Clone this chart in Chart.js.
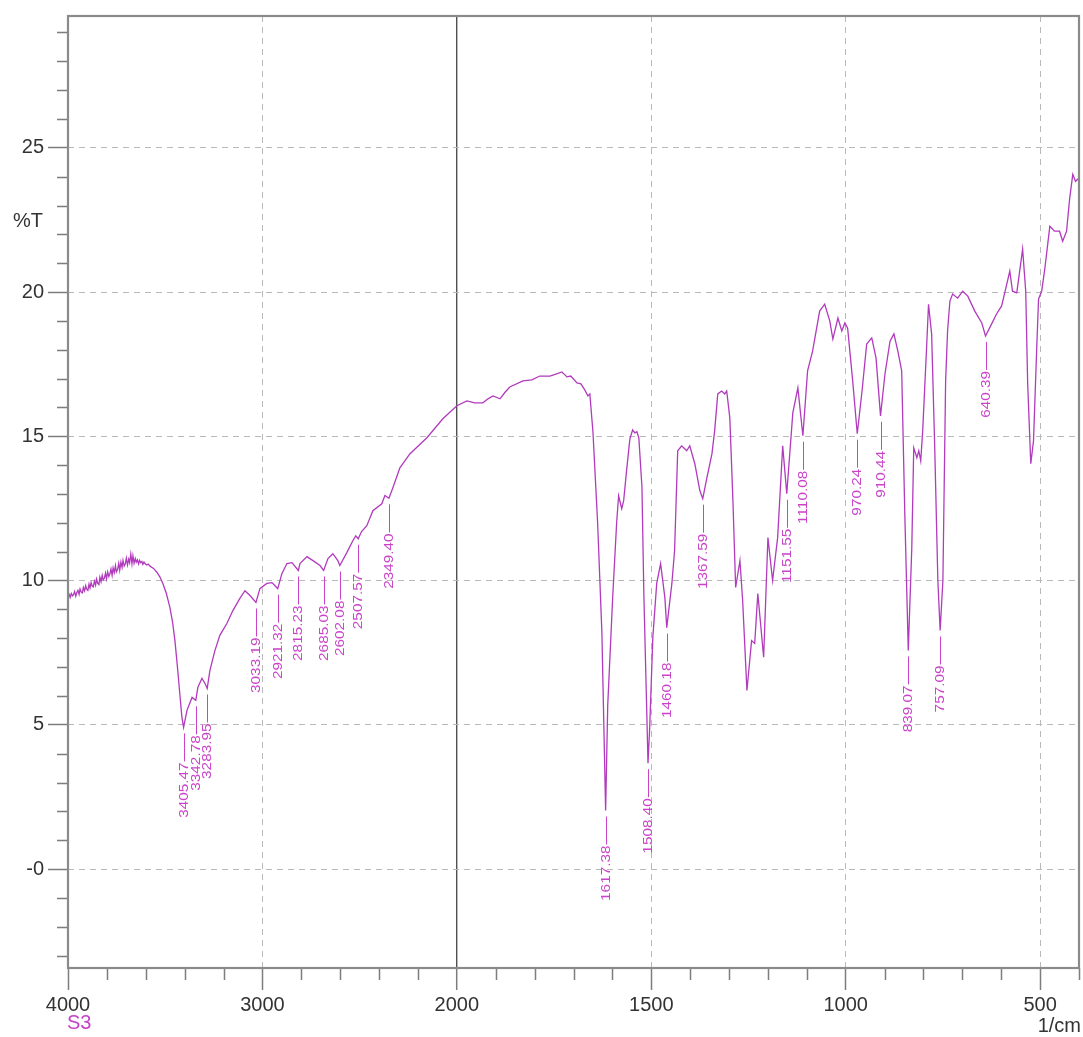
<!DOCTYPE html>
<html>
<head>
<meta charset="utf-8">
<title>S3 IR spectrum</title>
<script src="https://cdn.jsdelivr.net/npm/chart.js@4/dist/chart.umd.min.js"></script>
<style>
  html, body { margin: 0; padding: 0; background: #ffffff; }
  canvas { display: block; }
</style>
</head>
<body>
<canvas id="ir" width="1083" height="1037"></canvas>
<script>
// Spectrum S3: wavenumber (1/cm) and transmittance (%T)
const wavenumbers = [
  4000, 3994, 3989, 3983, 3977, 3972, 3966, 3960, 3955, 3949, 3943, 3938, 3932, 3926, 3921, 3915,
  3909, 3904, 3898, 3892, 3887, 3881, 3875, 3870, 3864, 3858, 3853, 3847, 3841, 3836, 3830, 3824,
  3819, 3813, 3807, 3802, 3796, 3790, 3785, 3779, 3773, 3768, 3762, 3756, 3751, 3745, 3739, 3734,
  3728, 3722, 3717, 3711, 3705, 3700, 3694, 3688, 3683, 3677, 3671, 3666, 3660, 3654, 3649, 3643,
  3637, 3632, 3626, 3620, 3615, 3609, 3603, 3596, 3588, 3578, 3560, 3542, 3527, 3512, 3494, 3476,
  3462, 3450, 3442, 3434, 3424, 3414, 3405.47, 3388, 3362, 3342.78, 3332, 3311, 3296, 3283.95, 3270, 3244,
  3219, 3183, 3152, 3116, 3090, 3064, 3033.19, 3013, 2977, 2951, 2936, 2921.32, 2900, 2874, 2848, 2815.23,
  2807, 2771, 2740, 2704, 2685.03, 2663, 2638, 2612, 2602.08, 2566, 2535, 2520, 2507.57, 2490, 2463, 2432,
  2386, 2370, 2349.40, 2329, 2293, 2242, 2154, 2072, 2000,
  1974, 1954, 1933, 1920, 1907, 1889, 1877, 1864, 1830, 1807, 1787, 1761, 1745, 1730, 1722, 1717,
  1707, 1691, 1681, 1671, 1663, 1658, 1650, 1638, 1627, 1617.38, 1612, 1599, 1589, 1584, 1576, 1571,
  1563, 1555, 1548, 1542, 1537, 1532, 1524, 1519, 1512, 1508.40, 1504, 1496, 1486, 1476, 1465, 1460.18,
  1447, 1440, 1432, 1422, 1414, 1409, 1401, 1388, 1375, 1367.59, 1357, 1344, 1337, 1329, 1319, 1311,
  1306, 1298, 1290, 1283, 1272, 1265, 1254, 1242, 1234, 1226, 1211, 1200, 1188, 1175, 1162, 1151.55,
  1136, 1123, 1110.08, 1098, 1085, 1067, 1054, 1041, 1033, 1020, 1010, 1002, 995, 982, 970.24, 958,
  946, 933, 922, 910.44, 899, 886, 876, 866, 856, 848, 839.07, 830, 825, 817, 812, 807,
  802, 792, 787, 779, 771, 763, 757.09, 750, 743, 738, 732, 725, 712, 699, 686, 668,
  650, 640.39, 625, 612, 599, 591, 578, 571, 560, 545, 537, 532, 524, 517, 509, 504,
  496, 488, 475, 463, 450, 442, 432, 424, 416, 409, 401, 400
];
const transmittance = [
  9.45, 9.52, 9.41, 9.55, 9.47, 9.50, 9.62, 9.46, 9.58, 9.66, 9.52, 9.71, 9.60, 9.57, 9.76, 9.64,
  9.82, 9.70, 9.66, 9.88, 9.74, 9.93, 9.80, 9.78, 9.98, 9.84, 10.05, 9.90, 9.86, 10.12, 9.96, 10.18,
  10.02, 10.08, 10.26, 10.06, 10.30, 10.14, 10.22, 10.40, 10.18, 10.44, 10.28, 10.52, 10.30, 10.38, 10.60, 10.36,
  10.64, 10.46, 10.70, 10.50, 10.58, 10.78, 10.54, 10.74, 10.62, 10.92, 10.58, 10.86, 10.60, 10.76, 10.64, 10.72,
  10.58, 10.70, 10.62, 10.66, 10.56, 10.64, 10.58, 10.54, 10.57, 10.50, 10.42, 10.28, 10.12, 9.90, 9.55, 9.07,
  8.55, 7.92, 7.35, 6.78, 6.00, 5.26, 4.91, 5.50, 5.95, 5.85, 6.30, 6.61, 6.44, 6.26, 6.89, 7.58,
  8.10, 8.51, 8.96, 9.38, 9.65, 9.48, 9.24, 9.72, 9.90, 9.93, 9.83, 9.72, 10.24, 10.59, 10.62, 10.35,
  10.59, 10.83, 10.69, 10.52, 10.35, 10.76, 10.93, 10.69, 10.52, 10.97, 11.38, 11.55, 11.45, 11.70, 11.90, 12.42,
  12.66, 12.95, 12.85, 13.22, 13.91, 14.39, 14.95, 15.61, 16.06,
  16.23, 16.16, 16.16, 16.30, 16.40, 16.30, 16.51, 16.71, 16.92, 16.96, 17.09, 17.09, 17.16, 17.23, 17.13, 17.06,
  17.09, 16.85, 16.82, 16.61, 16.40, 16.47, 15.16, 12.01, 8.20, 2.03, 5.67, 9.48, 12.01, 12.94, 12.49, 12.77,
  13.88, 14.91, 15.22, 15.12, 15.16, 14.95, 13.25, 9.48, 5.67, 3.67, 4.91, 8.03, 9.90, 10.59, 9.41, 8.37,
  9.90, 11.04, 14.50, 14.67, 14.57, 14.50, 14.67, 14.05, 13.11, 12.84, 13.56, 14.39, 15.19, 16.47, 16.57, 16.47,
  16.57, 15.64, 12.77, 9.76, 10.69, 9.31, 6.19, 7.92, 7.82, 9.55, 7.34, 11.49, 10.00, 11.49, 14.67, 13.01,
  15.81, 16.68, 15.02, 17.27, 17.96, 19.34, 19.58, 19.00, 18.37, 19.10, 18.65, 18.93, 18.75, 16.92, 15.09, 16.57,
  18.20, 18.41, 17.72, 15.71, 17.16, 18.30, 18.55, 17.96, 17.27, 12.32, 7.58, 11.14, 14.60, 14.26, 14.50, 14.15,
  15.19, 18.06, 19.58, 18.55, 14.60, 10.00, 8.27, 10.00, 16.92, 18.65, 19.69, 19.93, 19.79, 20.03, 19.86, 19.34,
  18.93, 18.48, 18.89, 19.24, 19.52, 19.97, 20.73, 20.03, 19.97, 21.49, 20.03, 16.82, 14.05, 14.84, 17.96, 19.76,
  20.03, 20.80, 22.28, 22.11, 22.11, 21.76, 22.11, 23.25, 24.08, 23.84, 23.94, 23.90
];

// Picked peaks (1/cm)
const peakWavenumbers = [
  3405.47, 3342.78, 3283.95, 3033.19, 2921.32, 2815.23, 2685.03, 2602.08, 2507.57, 2349.40,
  1617.38, 1508.40, 1460.18, 1367.59, 1151.55, 1110.08, 970.24, 910.44, 839.07, 757.09, 640.39
];

// Axis ticks
const xTickValues = [4000, 3000, 2000, 1500, 1000, 500];
const yTickValues = [0, 5, 10, 15, 20, 25];
const yTickLabels = ['-0', '5', '10', '15', '20', '25'];
const sampleName = 'S3';
const xUnitLabel = '1/cm';
const yUnitLabel = '%T';

const FONT = '"Liberation Sans", Arial, Helvetica, sans-serif';
const LINE_COLOR = '#b13abd';
const LABEL_COLOR = '#c944c9';
const AXIS_COLOR = '#7d7d7d';

// Wavenumber axis: 4000-2000 is drawn at half the scale of 2000-400.
const W_HIGH = 4000, W_BREAK = 2000, W_LOW = 400;
const HALF = (W_HIGH - W_BREAK) / 2;
const track = w => (w >= W_BREAK ? (W_HIGH - w) / 2 : HALF + (W_BREAK - w));
const untrack = t => (t <= HALF ? W_HIGH - 2 * t : W_BREAK - (t - HALF));
const TRACK_SPAN = track(W_LOW);
const TRACK_STEP = 100;

class SplitWavenumberScale extends Chart.LinearScale {
  determineDataLimits() {
    this.min = W_LOW;
    this.max = W_HIGH;
  }
  buildTicks() {
    const ticks = [];
    for (let t = 0; t <= TRACK_SPAN + 1e-9; t += TRACK_STEP) {
      ticks.push({ value: Math.round(untrack(t)) });
    }
    return ticks;
  }
  getPixelForValue(value) {
    if (value === null || value === undefined || isNaN(value)) return NaN;
    return this.getPixelForDecimal(track(value) / TRACK_SPAN);
  }
  getValueForPixel(pixel) {
    return untrack(this.getDecimalForPixel(pixel) * TRACK_SPAN);
  }
}
SplitWavenumberScale.id = 'splitWavenumber';
SplitWavenumberScale.defaults = {};
Chart.register(SplitWavenumberScale);

const isMajorX = v => xTickValues.includes(v);

function xGridColor(ctx) {
  const v = ctx.tick && ctx.tick.value;
  if (v === W_BREAK) return '#505050';
  if (v === W_HIGH || !isMajorX(v)) return 'rgba(0,0,0,0)';
  return '#b9b9b9';
}

// Minor ticks, the plot frame and the free-standing texts
const framePlugin = {
  id: 'irFrame',
  afterDraw(chart) {
    const { ctx, chartArea: a, scales: { x, y } } = chart;
    ctx.save();
    ctx.strokeStyle = AXIS_COLOR;
    ctx.lineWidth = 1.5;
    ctx.beginPath();
    for (let t = 0; t <= TRACK_SPAN + 1e-9; t += TRACK_STEP) {
      const w = Math.round(untrack(t));
      if (isMajorX(w)) continue;
      const px = Math.round(x.getPixelForValue(w)) + 0.5;
      ctx.moveTo(px, a.bottom);
      ctx.lineTo(px, a.bottom + 12);
    }
    for (let v = Math.ceil(y.min); v <= Math.floor(y.max); v++) {
      if (yTickValues.includes(v)) continue;
      const py = Math.round(y.getPixelForValue(v)) + 0.5;
      ctx.moveTo(a.left - 11, py);
      ctx.lineTo(a.left, py);
    }
    ctx.stroke();

    ctx.lineWidth = 2.2;
    ctx.strokeStyle = '#8a8a8a';
    ctx.strokeRect(a.left, a.top, a.right - a.left, a.bottom - a.top);

    ctx.font = '20px ' + FONT;
    ctx.textBaseline = 'middle';
    ctx.fillStyle = '#333333';
    ctx.textAlign = 'left';
    ctx.fillText(yUnitLabel, a.left - 55, a.top + 205);
    ctx.textAlign = 'right';
    ctx.fillText(xUnitLabel, chart.width - 2, a.bottom + 58);
    ctx.fillStyle = '#c543c5';
    ctx.textAlign = 'left';
    ctx.fillText(sampleName, a.left - 1, a.bottom + 55);
    ctx.restore();
  }
};

// Peak markers: short leader under each picked minimum and its rotated wavenumber
const peakLabelPlugin = {
  id: 'peakLabels',
  afterDatasetsDraw(chart) {
    const { ctx, scales: { x, y } } = chart;
    ctx.save();
    ctx.strokeStyle = LABEL_COLOR;
    ctx.fillStyle = LABEL_COLOR;
    ctx.lineWidth = 1;
    ctx.font = '13px ' + FONT;
    ctx.textAlign = 'right';
    ctx.textBaseline = 'middle';
    peakWavenumbers.forEach(w => {
      const i = wavenumbers.indexOf(w);
      const px = Math.round(x.getPixelForValue(w)) + 0.5;
      const py = y.getPixelForValue(transmittance[i]);
      ctx.beginPath();
      ctx.moveTo(px, py + 6);
      ctx.lineTo(px, py + 34);
      ctx.stroke();
      ctx.save();
      ctx.translate(px, py + 35);
      ctx.rotate(-Math.PI / 2);
      ctx.scale(1.18, 1);
      ctx.fillText(w.toFixed(2), 0, 0);
      ctx.restore();
    });
    ctx.restore();
  }
};

new Chart(document.getElementById('ir'), {
  type: 'line',
  data: {
    datasets: [{
      label: sampleName,
      data: wavenumbers.map((w, i) => ({ x: w, y: transmittance[i] })),
      borderColor: LINE_COLOR,
      borderWidth: 1.3,
      pointRadius: 0,
      tension: 0,
      fill: false
    }]
  },
  options: {
    responsive: false,
    animation: false,
    devicePixelRatio: 1,
    layout: { padding: { top: 15, right: 4, left: 0, bottom: 0 } },
    plugins: { legend: { display: false }, tooltip: { enabled: false } },
    scales: {
      x: {
        type: 'splitWavenumber',
        min: W_LOW,
        max: W_HIGH,
        afterFit: s => { s.height = 69; },
        grid: {
          color: xGridColor,
          lineWidth: c => (c.tick && c.tick.value === W_BREAK ? 1.4 : 1),
          tickColor: c => (c.tick && isMajorX(c.tick.value) ? AXIS_COLOR : 'rgba(0,0,0,0)'),
          tickLength: 22,
          tickWidth: 1.5
        },
        border: { display: false, dash: c => (c.tick && c.tick.value === W_BREAK ? [] : [6, 5]) },
        ticks: {
          autoSkip: false,
          maxRotation: 0,
          minRotation: 0,
          padding: 3,
          color: '#333333',
          font: { family: FONT, size: 20 },
          callback: v => (isMajorX(v) ? String(v) : '')
        }
      },
      y: {
        type: 'linear',
        min: -3.43,
        max: 29.57,
        afterFit: s => { s.width = 68; },
        afterBuildTicks: s => { s.ticks = yTickValues.map(v => ({ value: v })); },
        grid: {
          color: '#b9b9b9',
          lineWidth: 1,
          tickColor: AXIS_COLOR,
          tickLength: 20,
          tickWidth: 1.5
        },
        border: { display: false, dash: [6, 5] },
        ticks: {
          padding: 4,
          color: '#333333',
          font: { family: FONT, size: 20 },
          callback: v => yTickLabels[yTickValues.indexOf(v)]
        }
      }
    }
  },
  plugins: [peakLabelPlugin, framePlugin]
});
</script>
</body>
</html>
